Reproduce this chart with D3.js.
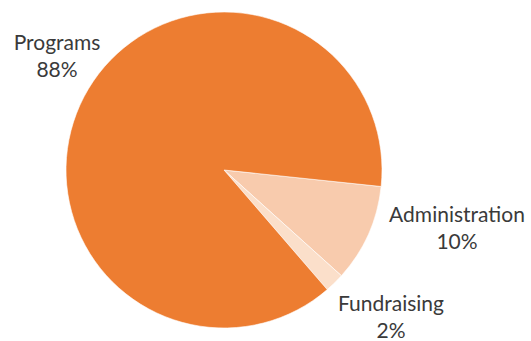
<!DOCTYPE html>
<html>
<head>
<meta charset="utf-8">
<script src="https://cdn.jsdelivr.net/npm/d3@7"></script>
<style>
  body { margin: 0; background: #fff; }
  text { font-family: Lato, "Open Sans", sans-serif; fill: #3a3a3a; }
</style>
</head>
<body>
<div id="chart"></div>
<script>
var categories = ["Administration", "Fundraising", "Programs"];
var values = [10, 2, 88];
var colors = ["#f8cbad", "#fbdfca", "#ed7d31"];

var width = 531, height = 341;
var cx = 224, cy = 170, radius = 158;
// label anchor points, picked by eye
var labelPos = [[457, 222], [391, 311], [57, 50]];

var svg = d3.select("#chart").append("svg")
    .attr("width", width)
    .attr("height", height);

var startA = 96 * Math.PI / 180;
var pie = d3.pie().sort(null)
    .startAngle(startA)
    .endAngle(startA + 2 * Math.PI);

var arc = d3.arc().innerRadius(0).outerRadius(radius);

var g = svg.append("g")
    .attr("transform", "translate(" + cx + "," + cy + ")");

var arcs = pie(values);

g.selectAll("path")
    .data(arcs)
    .enter().append("path")
    .attr("d", arc)
    .attr("fill", function (d, i) { return colors[i]; })
    .attr("stroke", "#fff")
    .attr("stroke-width", 0.6);

var labels = svg.selectAll(".lbl")
    .data(arcs)
    .enter().append("text")
    .attr("class", "lbl")
    .attr("text-anchor", "middle")
    .attr("font-size", 21)
    .attr("x", function (d, i) { return labelPos[i][0]; })
    .attr("y", function (d, i) { return labelPos[i][1]; });

labels.append("tspan")
    .text(function (d, i) { return categories[i]; });
labels.append("tspan")
    .attr("x", function (d, i) { return labelPos[i][0]; })
    .attr("dy", 27)
    .text(function (d) { return d.data + "%"; });
</script>
</body>
</html>
